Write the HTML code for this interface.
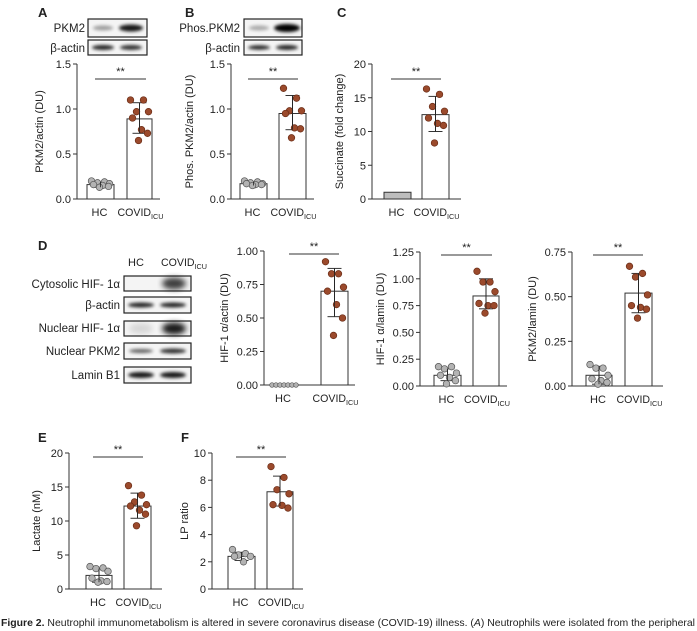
<!DOCTYPE html>
<html><head><meta charset="utf-8"><style>
body{margin:0;background:#fff;width:697px;height:631px;overflow:hidden}
svg{display:block}
text{font-family:"Liberation Sans",Arial,sans-serif;fill:#222}
</style></head><body>
<svg id="s" width="697" height="631" xmlns="http://www.w3.org/2000/svg">
<defs><filter id="bl" x="-20%" y="-100%" width="140%" height="300%"><feGaussianBlur stdDeviation="1.6"/></filter>
<filter id="bl2" x="-20%" y="-100%" width="140%" height="300%"><feGaussianBlur stdDeviation="3"/></filter></defs>
</svg>
<script>
const S=document.getElementById('s');let h='';
function T(x,y,t,o={}){h+=`<text x="${x}" y="${y}" font-size="${o.fs||11}" text-anchor="${o.a||'start'}" ${o.b?'font-weight="bold"':''} ${o.tr?`transform="${o.tr}"`:''}>${t}</text>`;}
function L(x1,y1,x2,y2,c='#333',w=1){h+=`<line x1="${x1}" y1="${y1}" x2="${x2}" y2="${y2}" stroke="${c}" stroke-width="${w}"/>`;}
const OFF=[-9,4,-3,9,-7,2,8,-1];
function plot(p){
 const Y=v=>p.yb-(v/p.max)*(p.yb-p.yt);
 p.bars.forEach(b=>{h+=`<rect x="${b.x0}" y="${Y(b.v)}" width="${b.x1-b.x0}" height="${p.yb-Y(b.v)}" fill="${b.fill||'#fff'}" stroke="#333" stroke-width="1"/>`;});
 L(p.ax,p.yt,p.ax,p.yb);L(p.ax,p.yb,p.xe,p.yb);
 p.ticks.forEach(t=>{L(p.ax-4,Y(t[0]),p.ax,Y(t[0]));T(p.ax-6,Y(t[0])+4,t[1],{a:'end'});});
 p.bars.forEach(b=>{const c=(b.x0+b.x1)/2;
  if(b.e){L(c,Y(b.e[0]),c,Y(b.e[1]));L(c-7,Y(b.e[0]),c+7,Y(b.e[0]));L(c-7,Y(b.e[1]),c+7,Y(b.e[1]));}
  (b.d||[]).forEach((v,i)=>{const dx=b.zero?(-12+i*4):OFF[i%8];
   h+=`<circle cx="${c+dx}" cy="${Y(v)}" r="${b.zero?2.3:3.3}" fill="${b.hc?'#b3b3b3':'#9b4a2c'}" stroke="${b.hc?'#555':'#6b2e18'}" stroke-width="0.7"/>`;});
  if(b.e){L(c,Y(b.e[0]),c,Y(b.e[1]),'#222',0.8);}
 });
 L(p.s[0],p.s[2],p.s[1],p.s[2]);T((p.s[0]+p.s[1])/2,p.s[2]-4,'**',{a:'middle'});
 const c0=(p.bars[0].x0+p.bars[0].x1)/2,c1=(p.bars[1].x0+p.bars[1].x1)/2;
 T(c0-1,p.yb+17,'HC',{a:'middle',fs:11});
 h+=`<text x="${c1+1}" y="${p.yb+17}" font-size="11" text-anchor="middle" textLength="46" lengthAdjust="spacingAndGlyphs">COVID<tspan font-size="7.5" dy="3">ICU</tspan></text>`;
 const my=(p.yt+p.yb)/2, lx=p.ax-p.lo;
 T(lx,my,p.yl,{a:'middle',tr:`rotate(-90 ${lx} ${my})`});
}
function blot(x0,y0,x1,y1,bands){
 h+=`<rect x="${x0}" y="${y0}" width="${x1-x0}" height="${y1-y0}" fill="#f4f4f4" stroke="#222" stroke-width="1.2"/>`;
 bands.forEach(b=>{h+=`<ellipse cx="${b[0]}" cy="${(y0+y1)/2}" rx="${b[1]}" ry="${b[2]}" fill="#000" opacity="${b[3]}" filter="url(#${b[4]||'bl'})"/>`;});
}
T(38,17,'A',{fs:13,b:1});T(185,17,'B',{fs:13,b:1});T(337,17,'C',{fs:13,b:1});
T(38,250,'D',{fs:13,b:1});T(38,442,'E',{fs:13,b:1});T(181,442,'F',{fs:13,b:1});
T(85,32,'PKM2',{a:'end',fs:11.5});blot(88,19,147,37,[[103,10,2.5,.35],[131,12,3.5,.9]]);
T(85,52,'β-actin',{a:'end',fs:11.5});blot(88,40,147,55,[[103,11,2.5,.85],[131,11,2.5,.8]]);
T(240,32,'Phos.PKM2',{a:'end',fs:11.5});blot(244,19,302,37,[[259,10,2.5,.3],[287,13,4,1]]);
T(240,52,'β-actin',{a:'end',fs:11.5});blot(244,40,302,55,[[259,11,2.2,.85],[287,11,2.5,.85]]);
const t15=[[0,'0.0'],[0.5,'0.5'],[1,'1.0'],[1.5,'1.5']];
plot({ax:77,yt:64,yb:199,max:1.5,xe:160,ticks:t15,s:[95,146,79],lo:34,yl:'PKM2/actin (DU)',
 bars:[{x0:87,x1:114,v:0.16,hc:1,e:[0.13,0.19],d:[0.2,0.19,0.18,0.17,0.16,0.15,0.14,0.13]},
 {x0:127,x1:152,v:0.89,e:[0.73,1.07],d:[1.1,1.1,0.97,0.97,0.9,0.77,0.73,0.65]}]});
plot({ax:231,yt:64,yb:199,max:1.5,xe:314,ticks:t15,s:[248,298,79],lo:38,yl:'Phos. PKM2/actin (DU)',
 bars:[{x0:240,x1:267,v:0.17,hc:1,e:[0.15,0.19],d:[0.2,0.19,0.18,0.17,0.17,0.16,0.16,0.15]},
 {x0:279,x1:306,v:0.95,e:[0.77,1.15],d:[1.23,1.12,0.98,0.98,0.95,0.79,0.78,0.68]}]});
plot({ax:372,yt:64,yb:199,max:20,xe:461,ticks:[[0,'0'],[5,'5'],[10,'10'],[15,'15'],[20,'20']],s:[391,441,79],lo:29,yl:'Succinate (fold change)',
 bars:[{x0:384,x1:411,v:1,fill:'#bdbdbd'},
 {x0:422,x1:449,v:12.5,e:[10,15.2],d:[16.3,15.5,13.7,13,12,11.2,10.9,8.3]}]});
T(136,266,'HC',{a:'middle',fs:11});h+=`<text x="184" y="266" font-size="11" text-anchor="middle" textLength="46" lengthAdjust="spacingAndGlyphs">COVID<tspan font-size="7.5" dy="3">ICU</tspan></text>`;
T(120,288,'Cytosolic HIF- 1α',{a:'end',fs:11.5});blot(124,276,191,291,[[174,12,6,.75,'bl2']]);
T(120,309,'β-actin',{a:'end',fs:11.5});blot(124,297,191,313,[[141,13,2.5,.85],[173,13,2.5,.85]]);
T(120,332,'Nuclear HIF- 1α',{a:'end',fs:11.5});blot(124,321,191,336,[[141,12,5,.12,'bl2'],[174,12,6,.9,'bl2']]);
T(120,355,'Nuclear PKM2',{a:'end',fs:11.5});blot(124,343,191,359,[[141,12,2,.6],[173,13,2.5,.8]]);
T(120,379,'Lamin B1',{a:'end',fs:11.5});blot(124,367,191,383,[[141,13,3,.9],[173,13,3,.9]]);
plot({ax:264,yt:251,yb:385,max:1,xe:355,ticks:[[0,'0.00'],[0.25,'0.25'],[0.5,'0.50'],[0.75,'0.75'],[1,'1.00']],s:[289,339,254],lo:36,yl:'HIF-1 α/actin (DU)',
 bars:[{x0:270,x1:298,v:0,hc:1,zero:1,d:[0,0,0,0,0,0,0]},
 {x0:321,x1:348,v:0.7,e:[0.51,0.87],d:[0.92,0.83,0.83,0.73,0.7,0.6,0.5,0.37]}]});
plot({ax:420,yt:252,yb:386,max:1.25,xe:507,ticks:[[0,'0.00'],[0.25,'0.25'],[0.5,'0.50'],[0.75,'0.75'],[1,'1.00'],[1.25,'1.25']],s:[441,492,255],lo:36,yl:'HIF-1 α/lamin (DU)',
 bars:[{x0:434,x1:461,v:0.1,hc:1,e:[0.05,0.16],d:[0.18,0.18,0.16,0.12,0.1,0.08,0.05,0.02]},
 {x0:473,x1:499,v:0.84,e:[0.72,1.0],d:[1.07,0.97,0.97,0.88,0.77,0.75,0.75,0.68]}]});
plot({ax:572,yt:252,yb:386,max:0.75,xe:663,ticks:[[0,'0.00'],[0.25,'0.25'],[0.5,'0.50'],[0.75,'0.75']],s:[593,643,255],lo:36,yl:'PKM2/lamin (DU)',
 bars:[{x0:586,x1:612,v:0.06,hc:1,e:[0.01,0.11],d:[0.12,0.1,0.1,0.06,0.04,0.03,0.02,0.01]},
 {x0:625,x1:652,v:0.52,e:[0.41,0.63],d:[0.67,0.63,0.61,0.51,0.45,0.44,0.43,0.38]}]});
plot({ax:69,yt:453,yb:589,max:20,xe:162,ticks:[[0,'0'],[5,'5'],[10,'10'],[15,'15'],[20,'20']],s:[93,143,457],lo:29,yl:'Lactate (nM)',
 bars:[{x0:86,x1:112,v:2,hc:1,e:[1,3],d:[3.3,3.1,3.0,2.6,1.6,1.2,1.1,1.0]},
 {x0:124,x1:151,v:12.2,e:[10.4,14.1],d:[15.2,13.8,12.8,12.4,12.2,11.6,11.0,9.3]}]});
plot({ax:212,yt:453,yb:589,max:10,xe:303,ticks:[[0,'0'],[2,'2'],[4,'4'],[6,'6'],[8,'8'],[10,'10']],s:[236,286,457],lo:24,yl:'LP ratio',
 bars:[{x0:228,x1:255,v:2.4,hc:1,e:[2.1,2.7],d:[2.9,2.6,2.5,2.4,2.4,2.0]},
 {x0:267,x1:293,v:7.15,e:[6.1,8.3],d:[9,8.2,7.3,7,6.2,6.15,5.95]}]});
h+=`<text x="1" y="626" font-size="10.3" textLength="694" lengthAdjust="spacingAndGlyphs"><tspan font-weight="bold">Figure 2.</tspan> Neutrophil immunometabolism is altered in severe coronavirus disease (COVID-19) illness. (<tspan font-style="italic">A</tspan>) Neutrophils were isolated from the peripheral</text>`;
S.insertAdjacentHTML('beforeend',h);
</script>
</body></html>
